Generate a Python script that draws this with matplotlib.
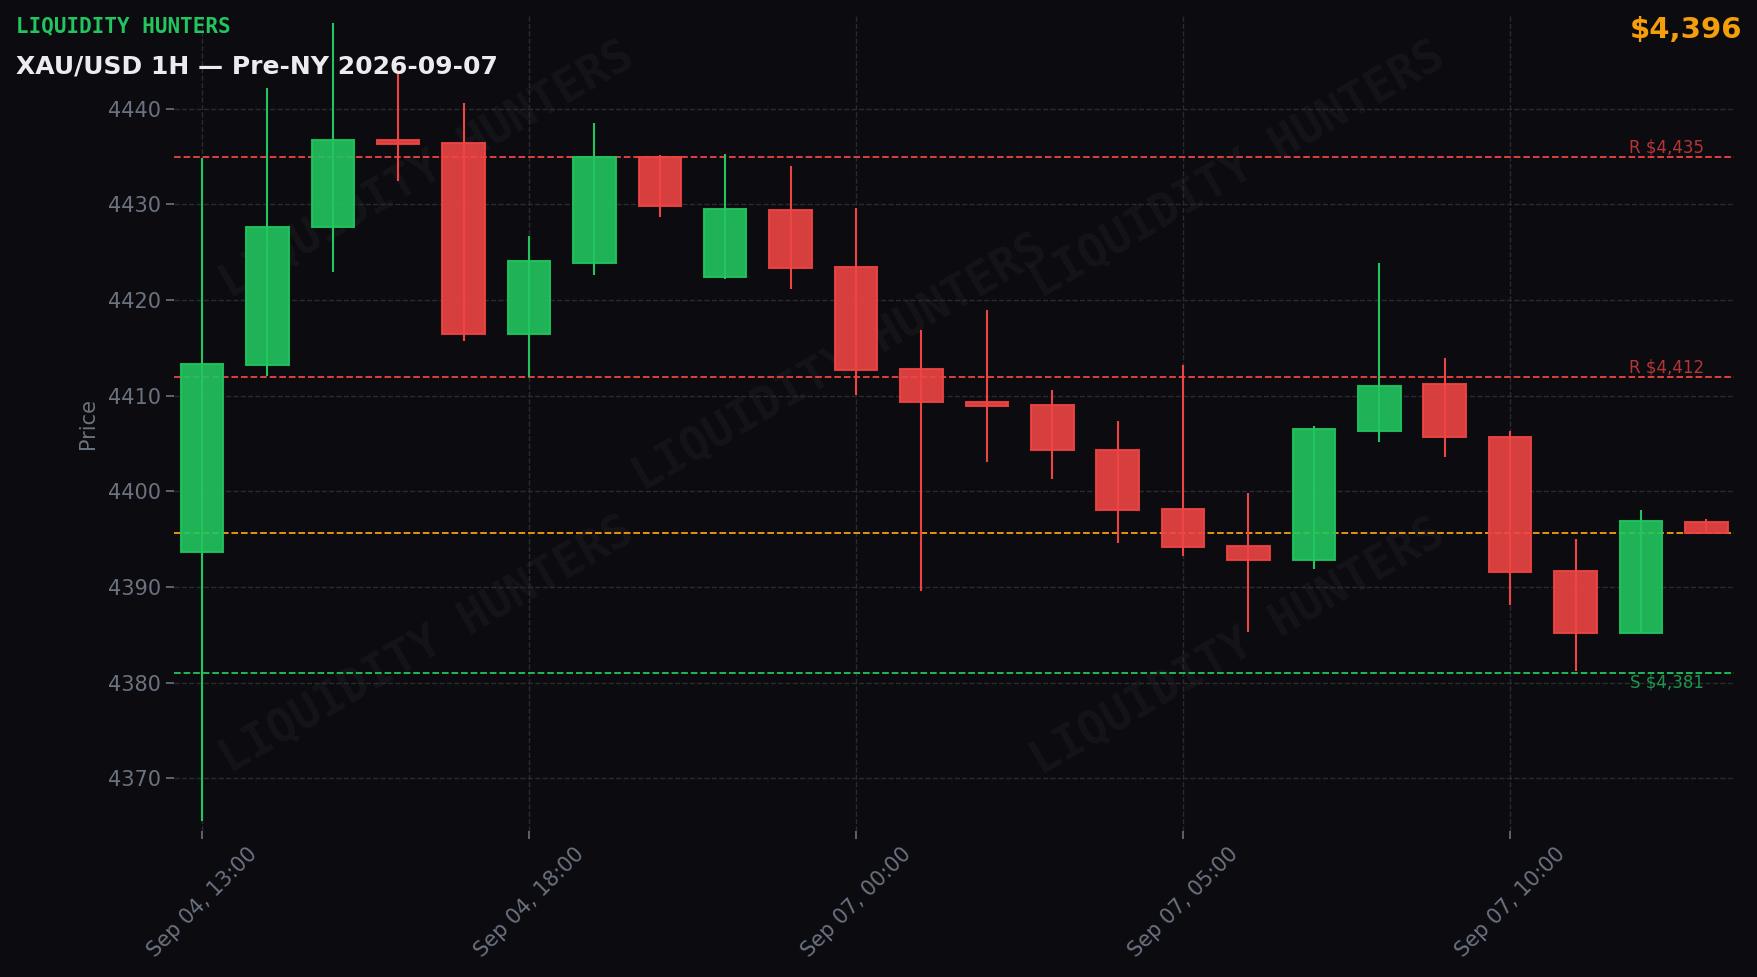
import matplotlib

matplotlib.use("Agg")
import matplotlib.pyplot as plt
import numpy as np

# hourly candles (index positions, weekend gap removed)
opens = [4393.7, 4413.2, 4427.6, 4436.7, 4436.4, 4416.5, 4423.9, 4435.0,
         4422.4, 4429.4, 4423.5, 4412.8, 4409.3, 4409.0, 4404.3, 4398.2,
         4394.3, 4392.8, 4406.3, 4411.2, 4405.7, 4391.7, 4385.2, 4396.8]
highs = [4434.9, 4442.2, 4449.0, 4443.6, 4440.6, 4426.7, 4438.5, 4435.2,
         4435.3, 4434.0, 4429.6, 4416.9, 4419.0, 4410.6, 4407.4, 4413.2,
         4399.8, 4406.8, 4423.9, 4413.9, 4406.3, 4395.0, 4398.1, 4397.1]
lows = [4365.5, 4412.1, 4422.9, 4432.4, 4415.7, 4412.0, 4422.6, 4428.7,
        4422.2, 4421.2, 4410.1, 4389.6, 4403.1, 4401.3, 4394.6, 4393.2,
        4385.3, 4391.9, 4405.2, 4403.6, 4388.1, 4381.2, 4385.2, 4395.5]
closes = [4413.3, 4427.6, 4436.7, 4436.3, 4416.5, 4424.1, 4435.0, 4429.8,
          4429.5, 4423.4, 4412.7, 4409.3, 4408.9, 4404.3, 4398.1, 4394.2,
          4392.8, 4406.5, 4411.0, 4405.7, 4391.6, 4385.2, 4396.9, 4395.7]

tick_idx = [0, 5, 10, 15, 20]
tick_labels = ["Sep 04, 13:00", "Sep 04, 18:00", "Sep 07, 00:00",
               "Sep 07, 05:00", "Sep 07, 10:00"]

resistances = [4435, 4412]
supports = [4381]
last_price = 4395.7

BG = "#0b0b10"
GREEN = "#22c55e"
RED = "#ef4444"
ORANGE = "#f59e0b"
MUTED = "#6b7280"
GRID = "#2a2a33"

plt.rcParams["font.family"] = "DejaVu Sans"

fig = plt.figure(figsize=(17.58, 9.77), dpi=100, facecolor=BG)
ax = fig.add_axes([0.0989, 0.1494, 0.8877, 0.8352])
ax.set_facecolor(BG)

x = np.arange(len(opens))
o = np.array(opens)
c = np.array(closes)
up = c >= o
colors = np.where(up, GREEN, RED)

ax.vlines(x, lows, highs, colors=colors, linewidth=1.5, zorder=3)
bottoms = np.minimum(o, c)
heights = np.maximum(np.abs(c - o), 0.35)
ax.bar(x, heights, bottom=bottoms, width=0.65, color=colors, alpha=0.9,
       edgecolor=colors, linewidth=1.5, zorder=4)

# support / resistance / last price
for r in resistances:
    ax.axhline(r, color=RED, linestyle="--", linewidth=1.3, zorder=2)
    ax.text(len(opens) - 1.03, r + 0.05, f"R ${r:,}", color=RED, alpha=0.75,
            fontsize=12, ha="right", va="bottom", zorder=5)
for s in supports:
    ax.axhline(s, color=GREEN, linestyle="--", linewidth=1.3, zorder=2)
    ax.text(len(opens) - 1.03, s - 0.05, f"S ${s:,}", color=GREEN, alpha=0.75,
            fontsize=12, ha="right", va="top", zorder=5)
ax.axhline(last_price, color=ORANGE, linestyle="--", linewidth=1.3, zorder=2)

# watermark
for wx, wy in [(0.162, 0.81), (0.427, 0.573), (0.682, 0.81),
               (0.162, 0.227), (0.682, 0.225)]:
    ax.text(wx, wy, "LIQUIDITY HUNTERS", transform=ax.transAxes,
            family="DejaVu Sans Mono", fontweight="bold", fontsize=33,
            color="white", alpha=0.04, rotation=30,
            ha="center", va="center", zorder=1)

ax.set_xlim(-0.43, len(opens) - 0.57)
ax.set_ylim(4364.5, 4449.8)
ax.set_yticks(np.arange(4370, 4441, 10))
ax.set_xticks(tick_idx)
ax.set_xticklabels(tick_labels, rotation=45)
ax.tick_params(colors=MUTED, labelsize=15, length=6, width=1.2)
ax.set_ylabel("Price", color=MUTED, fontsize=15, labelpad=7)
ax.grid(True, color=GRID, linestyle="--", linewidth=1.0)
for sp in ax.spines.values():
    sp.set_visible(False)

fig.text(0.009, 0.973, "LIQUIDITY HUNTERS", color=GREEN, fontsize=15,
         family="DejaVu Sans Mono", fontweight="bold", ha="left", va="center")
fig.text(0.009, 0.932, "XAU/USD 1H \u2014 Pre-NY 2026-09-07", color="#ececf0",
         fontsize=18, fontweight="bold", ha="left", va="center")
fig.text(0.991, 0.969, f"${last_price:,.0f}", color=ORANGE, fontsize=21,
         fontweight="bold", ha="right", va="center")

fig.savefig("out.png", dpi=100, facecolor=BG)
plt.close(fig)
